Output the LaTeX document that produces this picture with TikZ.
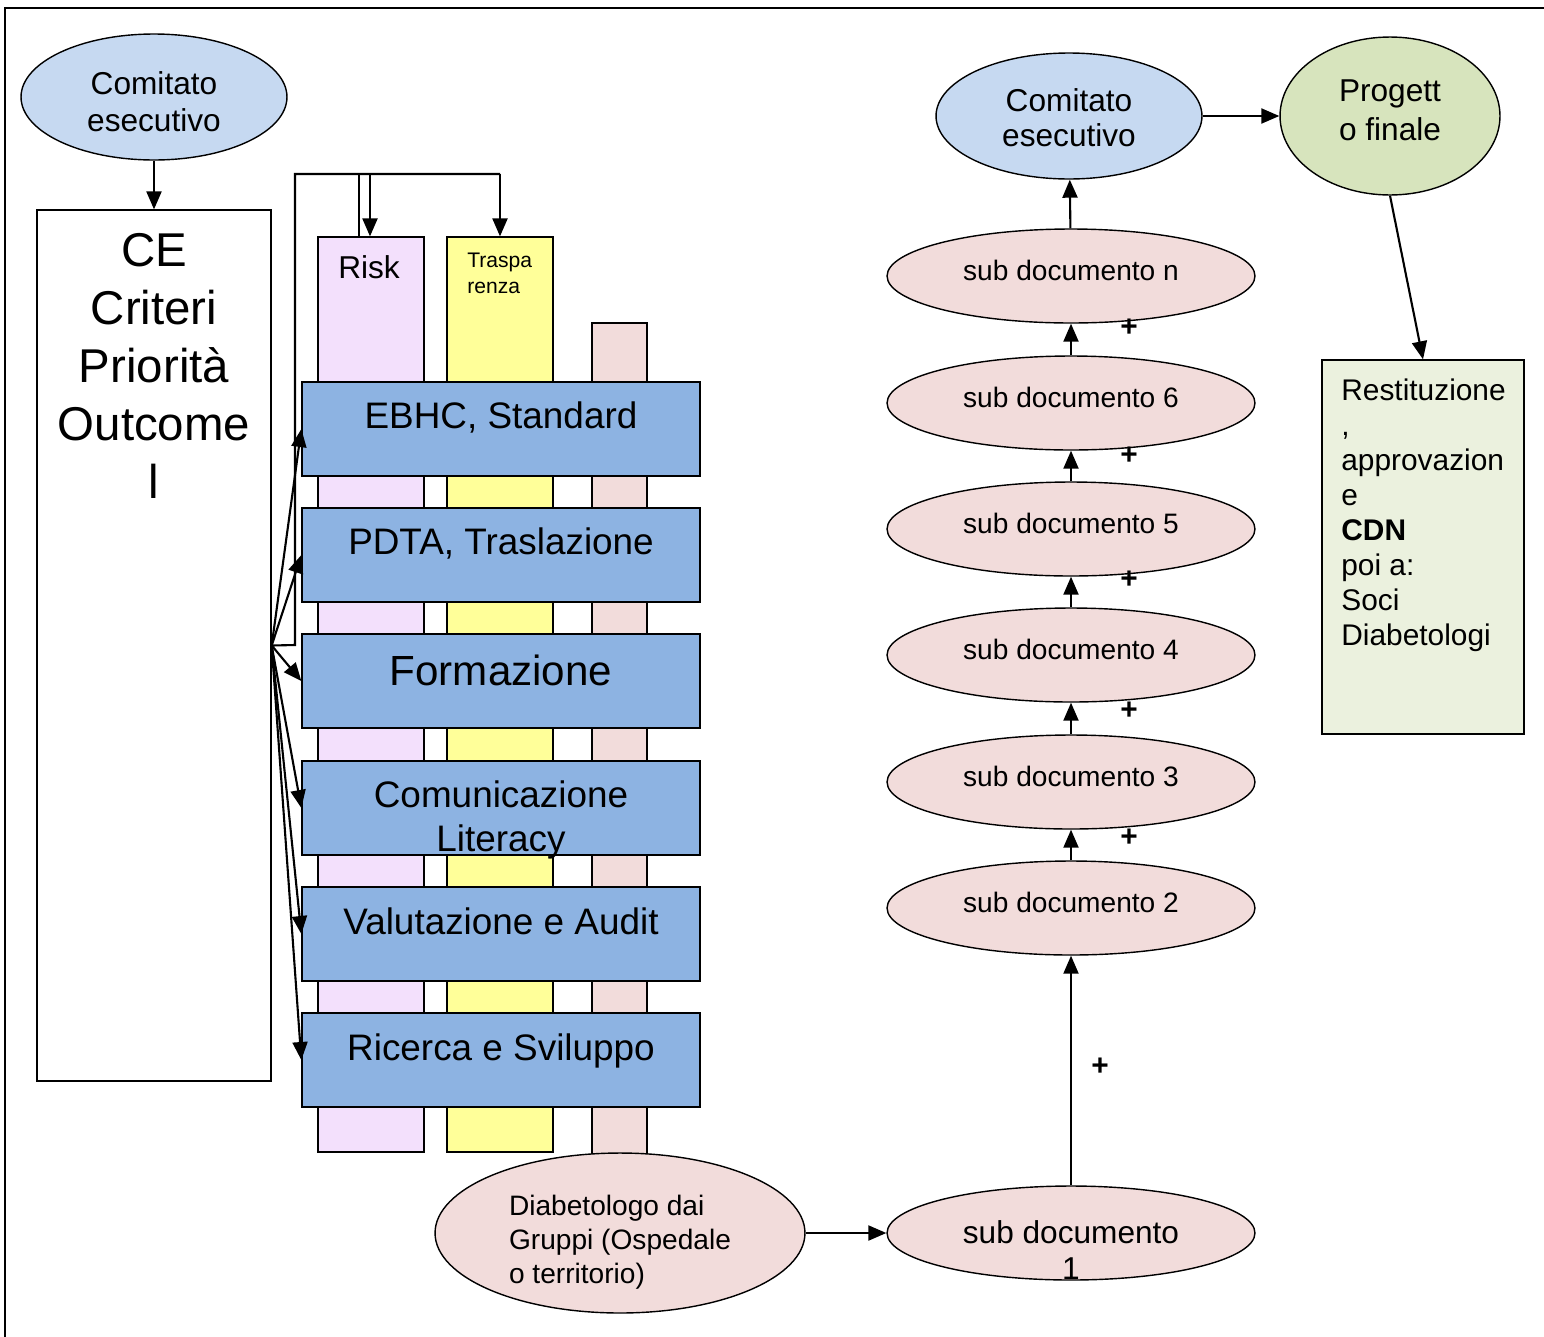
\documentclass[tikz,border=0pt]{standalone}
\usepackage{fontspec}
\setmainfont{Liberation Sans}
\usetikzlibrary{shapes.geometric,arrows.meta}
\definecolor{cebl}{HTML}{C6D9F1}
\definecolor{progr}{HTML}{D7E4BD}
\definecolor{restg}{HTML}{EBF1DE}
\definecolor{riskc}{HTML}{F3E0FC}
\definecolor{traspc}{HTML}{FFFF99}
\definecolor{docpk}{HTML}{F2DCDB}
\definecolor{bluc}{HTML}{8DB3E2}
\newcommand{\fsz}[2]{\fontsize{#1}{#2}\selectfont}

\begin{document}
\begin{tikzpicture}[x=0.02cm,y=-0.02cm,
  arr/.style={line width=1.2pt,-{Triangle[length=0.36cm,width=0.3cm]}},
  link/.style={line width=1.2pt},
  oval/.style={ellipse,draw,line width=0.8pt,inner sep=0pt},
  bar/.style={rectangle,draw,line width=0.8pt,inner sep=0pt},
  blu/.style={bar,fill=bluc,minimum width=7.96cm,minimum height=1.88cm},
  doc/.style={oval,fill=docpk,minimum width=7.36cm,minimum height=1.88cm,font=\fsz{16}{19},text depth=6pt},
  lbl/.style={anchor=north,inner sep=0pt,align=center,font=\fsz{21}{25}},
  txt/.style={inner sep=0pt,align=center,font=\fsz{18}{21}},
  plus/.style={inner sep=0pt,font=\fsz{17}{19}\bfseries}]
\useasboundingbox (0,0) rectangle (1544,1336);
\draw[line width=1pt] (5,1345) -- (5,8) -- (1550,8);

\node[bar,fill=riskc,minimum width=2.12cm,minimum height=18.3cm] (risk) at (371,694.5) {};
\node[bar,fill=traspc,minimum width=2.12cm,minimum height=18.3cm] (trasp) at (500,694.5) {};
\node[bar,fill=docpk,minimum width=1.1cm,minimum height=17.04cm] (third) at (619.5,749) {};
\node[inner sep=0pt,font=\fsz{18}{21}] (riskt) at (369,267) {Risk};
\node[anchor=west,inner sep=0pt,align=left,font=\fsz{12}{14.8}] (traspt) at (467,273) {Traspa\\renza};

\node[blu] (ebhc) at (501,429) {};
\node[blu] (pdta) at (501,555) {};
\node[blu] (form) at (501,681) {};
\node[blu] (comu) at (501,808) {};
\node[blu] (valu) at (501,934) {};
\node[blu] (ric) at (501,1060) {};
\node[lbl] (ebhct) at (501,401) {EBHC, Standard};
\node[lbl] (pdtat) at (501,527) {PDTA, Traslazione};
\node[lbl,font=\fsz{24}{28}] (formt) at (501,655) {Formazione};
\node[lbl] (comut) at (501,780) {Comunicazione\\Literacy};
\node[lbl] (valut) at (501,907) {Valutazione e Audit};
\node[lbl] (rict) at (501,1033) {Ricerca e Sviluppo};

\node[bar,fill=white,minimum width=4.68cm,minimum height=17.42cm] (ce) at (154,645.5) {};
\node[anchor=north,inner sep=0pt,align=center,font=\fsz{27}{33}] (cet) at (154,233) {CE\\Criteri\\Priorità\\Outcome\\l};
\node[oval,fill=cebl,minimum width=5.32cm,minimum height=2.52cm] (cel) at (154,97) {};
\node[txt] (celt) at (154,102) {Comitato\\esecutivo};
\draw[arr] (cel) -- (ce);

\foreach \b in {ebhc,pdta,form,comu,valu,ric}
  \draw[arr] (ce.east) -- (\b.west);
\coordinate (jl) at (295,645);
\coordinate (jt) at (295,174);
\coordinate (jr) at (500,174);
\coordinate (ja) at (370,174);
\coordinate (jb) at (359,174);
\draw[link] (ce.east) -- (jl) -- (jt) -- (jr);
\draw[arr] (jr) -- (trasp.north);
\draw[arr] (ja) -- (ja |- risk.north);
\draw[link] (jb) -- (jb |- risk.north);

\node[oval,fill=docpk,minimum width=7.4cm,minimum height=3.2cm] (diab) at (620,1233) {};
\node[txt,align=left,font=\fsz{16}{19.4}] (diabt) at (620,1242) {Diabetologo dai\\Gruppi (Ospedale\\o territorio)};
\node[oval,fill=docpk,minimum width=7.36cm,minimum height=1.88cm] (s1) at (1071,1233) {};
\node[txt] (s1t) at (1071,1250) {sub documento\\1};
\draw[arr] (diab) -- (s1);

\foreach \n/\y/\t in {s2/908/2,s3/782/3,s4/655/4,s5/529/5,s6/403/6,sn/276/n}
  \node[doc] (\n) at (1071,\y) {sub documento \t};
\draw[arr] (s1) -- (s2);
\foreach \a/\b in {s2/s3,s3/s4,s4/s5,s5/s6,s6/sn}
  \draw[arr] (\a) -- (\b);
\foreach \y in {328,456,580,711,838}
  \node[plus] (p\y) at (1129,\y) {+};
\node[plus] (p1) at (1100,1067) {+};

\node[oval,fill=cebl,minimum width=5.32cm,minimum height=2.52cm] (cer) at (1069,116) {};
\node[txt,font=\fsz{18}{20}] (cert) at (1069,118) {Comitato\\esecutivo};
\node[oval,fill=progr,minimum width=4.4cm,minimum height=3.16cm] (prog) at (1390,116) {};
\node[txt,font=\fsz{18}{22}] (progt) at (1390,110) {Progett\\o finale};
\node[bar,fill=restg,minimum width=4.04cm,minimum height=7.48cm] (rest) at (1423,547) {};
\node[anchor=north west,inner sep=0pt,align=left,font=\fsz{17}{20}] (restt) at (1341,378) {Restituzione\\,\\approvazion\\e\\\textbf{CDN}\\poi a:\\Soci\\Diabetologi};
\draw[arr] (sn) -- (cer);
\draw[arr] (cer) -- (prog);
\draw[arr] (prog.south) -- (rest.north);
\end{tikzpicture}
\end{document}
